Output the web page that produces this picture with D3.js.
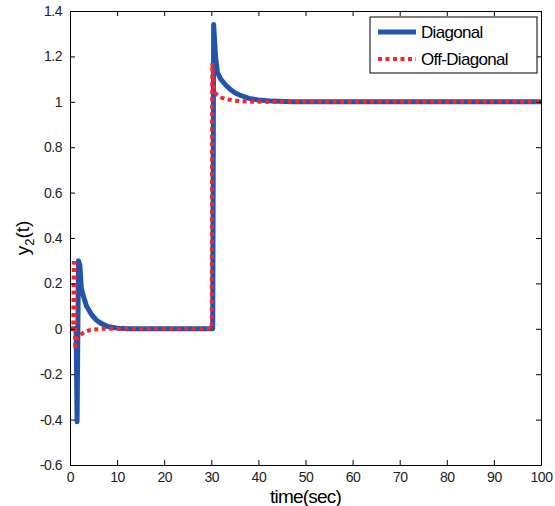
<!DOCTYPE html>
<html>
<head>
<meta charset="utf-8">
<script src="https://cdn.jsdelivr.net/npm/d3@7"></script>
<style>
  body { margin: 0; background: #fff; }
  text { font-family: "Liberation Sans", Arial, sans-serif; }
</style>
</head>
<body>
<script>
// diagonal controller response
var diagT = [0, 1.3, 1.5, 1.8, 2.1, 2.4, 2.9, 3.5, 4.5, 5.5, 6.5, 8, 10, 12, 30, 30.3, 30.5, 30.9, 31.3, 32, 33, 34, 35, 36, 38, 40, 43, 47, 100];
var diagY = [0, 0, -0.41, 0.30, 0.28, 0.18, 0.14, 0.10, 0.065, 0.04, 0.025, 0.01, 0.003, 0, 0, 0, 1.34, 1.20, 1.13, 1.10, 1.075, 1.055, 1.04, 1.03, 1.015, 1.008, 1.003, 1, 1];

// off-diagonal controller response
var offT = [0, 0.7, 0.8, 1.0, 1.1, 1.5, 2, 3, 4, 5, 7, 30, 30.1, 30.2, 30.6, 31, 32, 33, 35, 38, 100];
var offY = [0, 0, 0.29, 0.29, -0.09, -0.04, -0.03, -0.015, -0.007, -0.003, 0, 0, 0, 1.17, 1.05, 1.035, 1.02, 1.012, 1.005, 1, 1];

var xTicks = [0, 10, 20, 30, 40, 50, 60, 70, 80, 90, 100];
var yTicks = [-0.6, -0.4, -0.2, 0, 0.2, 0.4, 0.6, 0.8, 1, 1.2, 1.4];

var W = 555, H = 506;
var mL = 70, mR = 541, mT = 11, mB = 465;

var svg = d3.select("body").append("svg")
    .attr("width", W)
    .attr("height", H);

var x = d3.scaleLinear().domain([0, 100]).range([mL, mR]);
var y = d3.scaleLinear().domain([-0.6, 1.4]).range([mB, mT]);

svg.append("defs").append("clipPath").attr("id", "plotclip")
  .append("rect")
    .attr("x", mL).attr("y", mT - 2)
    .attr("width", mR - mL).attr("height", mB - mT + 2);

var line = d3.line()
    .x(function(d) { return x(d[0]); })
    .y(function(d) { return y(d[1]); });

var diag = diagT.map(function(t, i) { return [t, diagY[i]]; });
var off = offT.map(function(t, i) { return [t, offY[i]]; });

var plot = svg.append("g").attr("clip-path", "url(#plotclip)");

plot.append("path")
    .attr("d", line(diag))
    .attr("fill", "none")
    .attr("stroke", "#2154ad")
    .attr("stroke-width", 5)
    .attr("stroke-linejoin", "round");

plot.append("path")
    .attr("d", line(off))
    .attr("fill", "none")
    .attr("stroke", "#f2262c")
    .attr("stroke-width", 4)
    .attr("stroke-dasharray", "4,3.5");

// axes, MATLAB style: inward ticks all round
var xAxis = d3.axisBottom(x).tickValues(xTicks).tickSizeInner(-5).tickSizeOuter(0).tickPadding(7);
var yAxis = d3.axisLeft(y).tickValues(yTicks).tickSizeInner(-5).tickSizeOuter(0).tickPadding(8)
    .tickFormat(function(d) { return String(+d.toFixed(1)); });

svg.append("g").attr("transform", "translate(0," + mB + ")").call(xAxis);
svg.append("g").attr("transform", "translate(" + mL + ",0)").call(yAxis);
svg.append("g").attr("transform", "translate(0," + mT + ")")
    .call(d3.axisTop(x).tickValues(xTicks).tickSizeInner(-5).tickSizeOuter(0).tickFormat(""));
svg.append("g").attr("transform", "translate(" + mR + ",0)")
    .call(d3.axisRight(y).tickValues(yTicks).tickSizeInner(-5).tickSizeOuter(0).tickFormat(""));

svg.selectAll(".domain").attr("stroke", "#000").attr("stroke-width", 1);
svg.selectAll(".tick line").attr("stroke", "#000");
svg.selectAll(".tick text")
    .attr("font-size", 14)
    .attr("fill", "#222")
    .attr("letter-spacing", -0.5)
    .style("font-family", "'Liberation Sans', Arial, sans-serif");

// axis titles
svg.append("text")
    .attr("x", (mL + mR) / 2)
    .attr("y", 503)
    .attr("text-anchor", "middle")
    .attr("font-size", 19)
    .attr("letter-spacing", -0.8)
    .text("time(sec)");

var yl = svg.append("text")
    .attr("transform", "translate(29," + ((mT + mB) / 2) + ") rotate(-90)")
    .attr("text-anchor", "middle")
    .attr("font-size", 19);
yl.append("tspan").text("y");
yl.append("tspan").attr("font-size", 13).attr("dy", 5).text("2");
yl.append("tspan").attr("dy", -5).text("(t)");

// legend
var lg = svg.append("g");
lg.append("rect")
    .attr("x", 370).attr("y", 17)
    .attr("width", 167).attr("height", 56)
    .attr("fill", "#fff").attr("stroke", "#000");

var legendItems = [
  { label: "Diagonal", color: "#2154ad", width: 5, dash: null },
  { label: "Off-Diagonal", color: "#f2262c", width: 4, dash: "4,3.5" }
];

legendItems.forEach(function(it, i) {
  var yy = 32 + i * 27;
  lg.append("line")
      .attr("x1", 378).attr("x2", 416)
      .attr("y1", yy).attr("y2", yy)
      .attr("stroke", it.color)
      .attr("stroke-width", it.width)
      .attr("stroke-dasharray", it.dash);
  lg.append("text")
      .attr("x", 421).attr("y", yy + 6)
      .attr("font-size", 17)
      .attr("letter-spacing", -0.7)
      .text(it.label);
});
</script>
</body>
</html>
